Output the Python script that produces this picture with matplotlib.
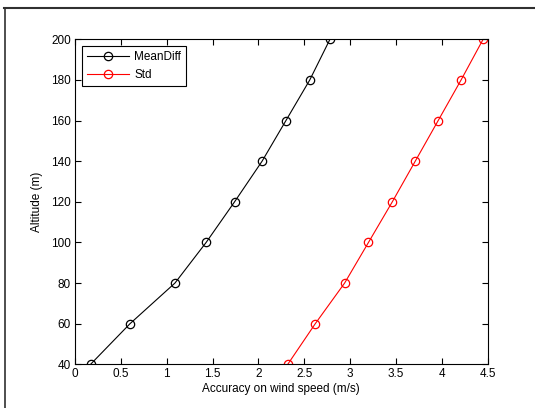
import matplotlib
matplotlib.use("Agg")
import matplotlib.pyplot as plt
from matplotlib.lines import Line2D

altitude = [40, 60, 80, 100, 120, 140, 160, 180, 200]
mean_diff = [0.17, 0.60, 1.09, 1.43, 1.74, 2.04, 2.30, 2.56, 2.78]
std = [2.32, 2.62, 2.94, 3.20, 3.46, 3.71, 3.96, 4.21, 4.45]
xticks = [0, 0.5, 1, 1.5, 2, 2.5, 3, 3.5, 4, 4.5]
xticklabels = ["0", "0.5", "1", "1.5", "2", "2.5", "3", "3.5", "4", "4.5"]
yticks = [40, 60, 80, 100, 120, 140, 160, 180, 200]

plt.rcParams['font.family'] = ['Liberation Sans', 'DejaVu Sans']

fig = plt.figure(figsize=(5.35, 4.08), dpi=100)
ax = fig.add_axes([75/535, 43.7/408, 412.7/535, 325/408])

ax.plot(mean_diff, altitude, color='black', marker='o', markersize=6,
        markerfacecolor='none', markeredgewidth=0.9, linewidth=0.8, label='MeanDiff')
ax.plot(std, altitude, color='red', marker='o', markersize=6,
        markerfacecolor='none', markeredgewidth=0.9, linewidth=0.8, label='Std')

ax.set_xlim(0, 4.5)
ax.set_ylim(40, 200)
ax.set_xticks(xticks)
ax.set_xticklabels(xticklabels)
ax.set_yticks(yticks)
ax.tick_params(direction='in', top=True, right=True, length=4, width=0.8,
               labelsize=8.5, pad=3)
for s in ax.spines.values():
    s.set_linewidth(0.8)
ax.set_xlabel('Accuracy on wind speed (m/s)', fontsize=8.5, labelpad=2)
ax.set_ylabel('Altitude (m)', fontsize=8.5, labelpad=6)

leg = ax.legend(loc='upper left', fontsize=8.5, fancybox=False, framealpha=1,
                edgecolor='black', handlelength=3.6, borderaxespad=0.6,
                handletextpad=0.4, borderpad=0.4, labelspacing=0.5)
leg.get_frame().set_linewidth(0.8)

# figure border lines (top and left)
fig.add_artist(Line2D([4/535, 1], [1 - 7.5/408, 1 - 7.5/408], transform=fig.transFigure,
                      color='#303030', linewidth=1.5))
fig.add_artist(Line2D([4.5/535, 4.5/535], [0, 1 - 7.5/408], transform=fig.transFigure,
                      color='#303030', linewidth=1.2))

fig.savefig('out.png', dpi=100)
